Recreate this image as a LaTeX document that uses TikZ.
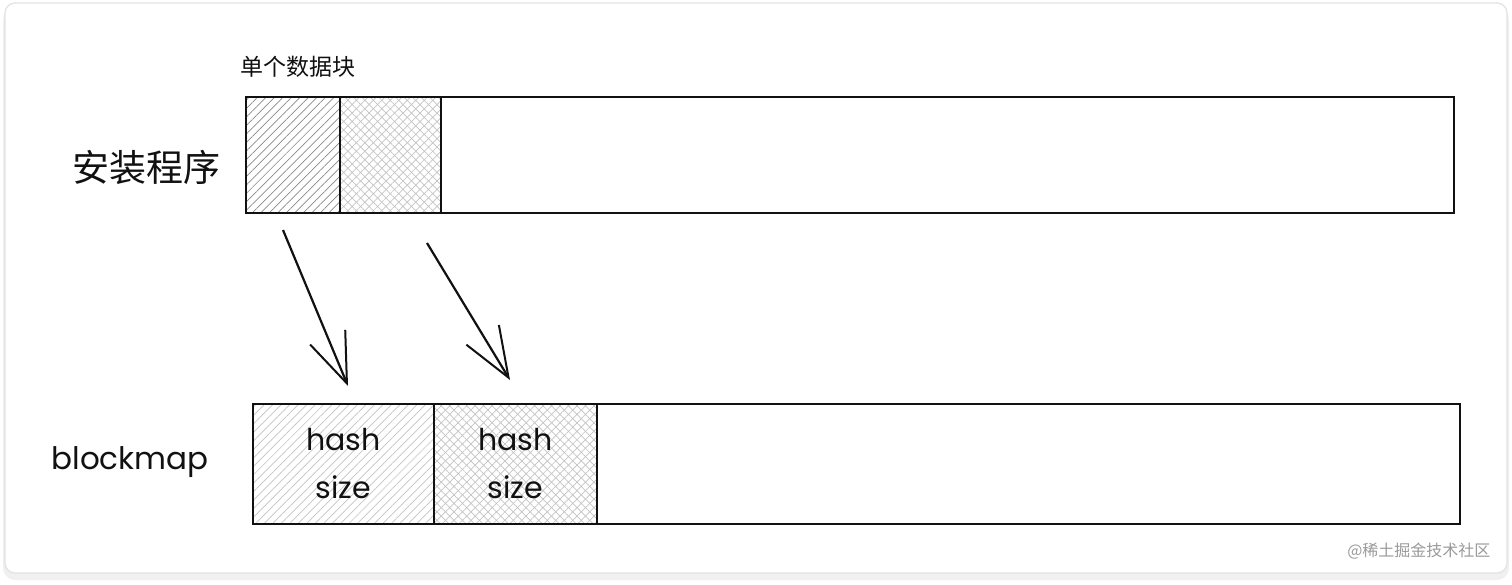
\documentclass[tikz,border=0pt]{standalone}
\usepackage{fontspec}
\newfontfamily\cjk{Noto Sans CJK SC}
\newfontfamily\hand{Poppins}
\usepackage{tikz}
\usetikzlibrary{arrows.meta,positioning,patterns.meta}
\definecolor{ink}{HTML}{111111}
\definecolor{hatchdark}{HTML}{8A8A8A}
\definecolor{hatchlight}{HTML}{C4C4C4}
\definecolor{cardline}{HTML}{E2E2E2}
\definecolor{mark}{HTML}{9A9A9A}
\tikzset{
  >={Straight Barb[length=50pt,width=38pt,line width=2pt]},
  bar/.style={draw=ink,line width=2.6pt,anchor=north west,inner sep=0pt,outer sep=0pt,minimum height=#1},
  bar/.default=116pt,
  hatch/.style={preaction={pattern={Lines[angle=45,distance=6pt,line width=0.7pt]},pattern color=#1}},
  cross/.style={hatch=#1,preaction={pattern={Lines[angle=-45,distance=6pt,line width=0.7pt]},pattern color=#1}},
  label/.style={font=\cjk\fontsize{37}{42}\selectfont,text=ink},
  handtext/.style={font=\hand\fontsize{30}{48}\selectfont,text=ink,align=center},
  flow/.style={->,draw=ink,line width=2.2pt},
}

\begin{document}
\begin{tikzpicture}[x=1pt,y=-1pt]
  \useasboundingbox (0,0) rectangle (1512,584);
  \fill[white] (0,0) rectangle (1512,584);
  \fill[black!6,rounded corners=12pt] (3,8) rectangle (1509,580);
  \filldraw[fill=white,draw=cardline,line width=1.2pt,rounded corners=10pt] (5,3) rectangle (1507,573);
  % installer row
  \node[label] (setup) at (146,167) {安装程序};
  \node[font=\cjk\fontsize{23}{26}\selectfont,text=ink] (chunk) at (298,67) {单个数据块};
  \node[bar,minimum width=1208pt] (tbar) at (246,97) {};
  \node[bar,minimum width=94pt,hatch=hatchdark] (tb1) at (246,97) {};
  \node[bar,minimum width=101pt,cross=hatchlight] (tb2) at (tb1.north east) {};
  % blockmap row
  \node[font=\hand\fontsize{31}{34}\selectfont,text=ink] (maplbl) at (130,462) {blockmap};
  \node[bar=120pt,minimum width=1207pt] (bbar) at (253,404) {};
  \node[bar=120pt,minimum width=181pt,hatch=hatchlight,handtext] (bb1) at (253,404) {hash\\size};
  \node[bar=120pt,minimum width=163pt,cross=hatchlight,handtext] (bb2) at (bb1.north east) {hash\\size};
  % arrows
  \coordinate (a1) at (283,230);
  \coordinate (a2) at (427,243);
  \coordinate (b1) at (348,386);
  \coordinate (b2) at (510,380);
  \draw[flow] (a1) -- (b1);
  \draw[flow] (a2) -- (b2);
  \node[font=\cjk\fontsize{16}{18}\selectfont,text=mark,anchor=east] (wm) at (1494,551) {@稀土掘金技术社区};
\end{tikzpicture}
\end{document}
